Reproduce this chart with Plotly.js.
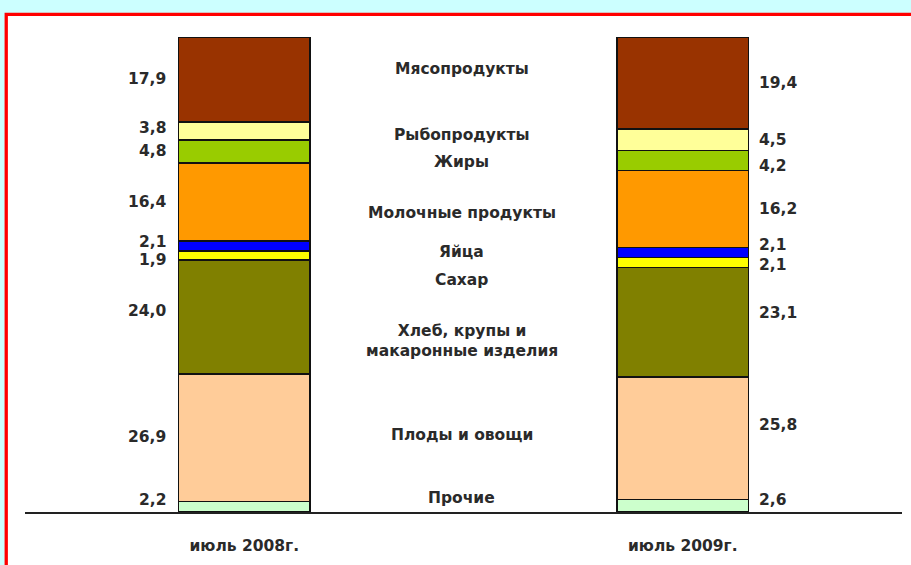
<!DOCTYPE html>
<html>
<head>
<meta charset="utf-8">
<script src="https://cdn.plot.ly/plotly-3.0.1.min.js"></script>
<style>html,body{margin:0;padding:0;background:#CCFFFF;}#chart{width:911px;height:565px;}</style>
</head>
<body>
<div id="chart"></div>
<script>
// ---- data ----
const categories = ['июль 2008г.', 'июль 2009г.'];
const seriesNames = ['Прочие', 'Плоды и овощи', 'Хлеб, крупы и<br>макаронные изделия', 'Сахар', 'Яйца',
  'Молочные продукты', 'Жиры', 'Рыбопродукты', 'Мясопродукты'];
const prochie = [2.2, 2.6];
const plody = [26.9, 25.8];
const hleb = [24.0, 23.1];
const sahar = [1.9, 2.1];
const yaitsa = [2.1, 2.1];
const moloch = [16.4, 16.2];
const zhiry = [4.8, 4.2];
const ryba = [3.8, 4.5];
const myaso = [17.9, 19.4];

// ---- styles ----
const seriesValues = [prochie, plody, hleb, sahar, yaitsa, moloch, zhiry, ryba, myaso];
const colors = ['#CCFFCC', '#FFCC99', '#808000', '#FFFF00', '#0000FF', '#FF9900', '#99CC00', '#FFFF99', '#993300'];
// pixel nudges for labels (style only)
const leftShift = [7, 1, 6, -5, 4, 0, 0, 3, 1];
const rightShift = [6, 13, 9, -3, 7, 0, -5, 0, 0];
const midShift = [8, 3, -21, -21, -3, -8, -6, 0, 12];

const bargap = 0.7;
const half = (1 - bargap) / 2;
const font = {family: 'DejaVu Sans, Verdana, sans-serif', size: 15.5, color: '#2a2a2a', weight: 'bold'};
const fmt = v => v.toFixed(1).replace('.', ',');

const traces = seriesValues.map((vals, i) => ({
  type: 'bar',
  x: categories,
  y: vals,
  name: seriesNames[i],
  marker: {color: colors[i], line: {color: '#111', width: 1.5}},
  hoverinfo: 'skip'
}));

const annotations = [];
const cum = [0, 0];
seriesValues.forEach((vals, i) => {
  const centers = vals.map((v, j) => cum[j] + v / 2);
  annotations.push({x: 0 - half, y: centers[0], xref: 'x', yref: 'y', text: fmt(vals[0]),
    showarrow: false, xanchor: 'right', xshift: -10, yshift: leftShift[i], font: font});
  annotations.push({x: 1 + half, y: centers[1], xref: 'x', yref: 'y', text: fmt(vals[1]),
    showarrow: false, xanchor: 'left', xshift: 8, yshift: rightShift[i], font: font});
  annotations.push({x: 0.5, y: (centers[0] + centers[1]) / 2, xref: 'x', yref: 'y', text: seriesNames[i],
    showarrow: false, xanchor: 'center', xshift: -2, yshift: midShift[i], font: font});
  vals.forEach((v, j) => cum[j] += v);
});

const layout = {
  width: 911, height: 565,
  margin: {l: 24.5, r: 8.5, t: 37, b: 53},
  paper_bgcolor: '#CCFFFF',
  plot_bgcolor: 'rgba(0,0,0,0)',
  barmode: 'stack',
  bargap: bargap,
  showlegend: false,
  font: font,
  xaxis: {
    type: 'category', range: [-0.5, 1.5], showgrid: false, zeroline: false,
    showline: true, linecolor: '#222', linewidth: 1.5,
    ticks: 'outside', ticklen: 19, tickcolor: 'rgba(0,0,0,0)', tickfont: font, fixedrange: true
  },
  yaxis: {range: [0, 100], visible: false, fixedrange: true},
  shapes: [{
    type: 'rect', xref: 'paper', yref: 'paper', layer: 'below',
    x0: -0.0214, x1: 1.2, y0: -0.3, y1: 1.0478,
    fillcolor: '#FFFFFF', line: {color: '#FF0000', width: 3.3}
  }],
  annotations: annotations
};

Plotly.newPlot('chart', traces, layout, {displayModeBar: false, staticPlot: true});
</script>
</body>
</html>
